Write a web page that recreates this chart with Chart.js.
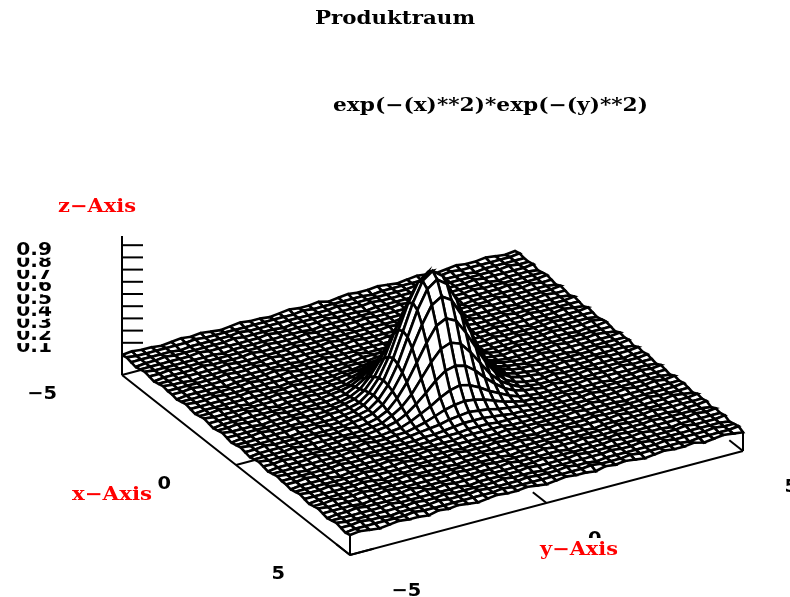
<!DOCTYPE html>
<html>
<head>
<meta charset="utf-8">
<title>Produktraum</title>
<script src="https://cdn.jsdelivr.net/npm/chart.js@4"></script>
<style>
body { margin: 0; background: #fff; }
canvas { display: block; }
</style>
</head>
<body>
<canvas id="chart" width="790" height="597"></canvas>
<script>
const TITLE = 'Produktraum';
const SUBTITLE = 'exp(−(x)**2)*exp(−(y)**2)';
const X_AXIS_LABEL = 'x−Axis';
const Y_AXIS_LABEL = 'y−Axis';
const Z_AXIS_LABEL = 'z−Axis';

const xTicks = [-5, 0, 5];
const yTicks = [-5, 0, 5];
const zTicks = [0.1, 0.2, 0.3, 0.4, 0.5, 0.6, 0.7, 0.8, 0.9];

const xValues = [-5,-4.8,-4.6,-4.4,-4.2,-4,-3.8,-3.6,-3.4,-3.2,-3,-2.8,-2.6,-2.4,-2.2,-2,-1.8,-1.6,-1.4,-1.2,-1,-0.8,-0.6,-0.4,-0.2,0,0.2,0.4,0.6,0.8,1,1.2,1.4,1.6,1.8,2,2.2,2.4,2.6,2.8,3,3.2,3.4,3.6,3.8,4,4.2,4.4,4.6,4.8,5];
const yValues = [-5,-4.75,-4.5,-4.25,-4,-3.75,-3.5,-3.25,-3,-2.75,-2.5,-2.25,-2,-1.75,-1.5,-1.25,-1,-0.75,-0.5,-0.25,0,0.25,0.5,0.75,1,1.25,1.5,1.75,2,2.25,2.5,2.75,3,3.25,3.5,3.75,4,4.25,4.5,4.75,5];

const zRows = [
[0,1,0,0,-1,0,1,0,1,0,-1, 0,1,0,0,-1,0,1,0,0,1,-1,0,1,0,0,1,0,-1,0, 1,0,-1,0,1,0,0,1,0,-1,0],
[1,0,0,0,0,0,0,1,0,0,0, 0,0,0,0,0,0,0,1,0,0,0,0,0,0,-1,0,0,0,0, 0,0,0,1,0,0,0,0,0,0,1],
[0,0,0,0,0,-1,0,0,0,0,0, 1,0,0,0,0,0,0,0,0,0,1,0,0,0,0,0,0,0,1, 0,0,0,0,0,-1,0,0,0,0,0],
[-1,0,0,1,0,0,0,0,0,0,1, 0,0,0,0,-1,0,0,0,0,0,0,0,0,1,0,0,0,0,0, 0,1,0,0,0,0,0,0,1,0,0],
[0,0,0,0,0,0,1,0,0,0,0, 0,0,1,0,0,0,0,0,1,0,0,0,-1,0,0,0,0,0,0, 0,0,0,0,1,0,0,0,0,0,1],
[1,0,0,0,0,0,0,0,-1,0,0, 0,0,0,0,0,0,-1,0,0,0,0,0,0,0,0,1,0,0,0, 1,0,0,0,0,0,-1,0,0,0,-1],
[0,0,1,0,0,0,0,0,0,0,0, 0,1,0,0,0,1,0,0,0,0,0,1,0,0,0,0,0,0,0, 0,0,0,1,0,0,0,0,0,0,0],
[-1,0,0,0,0,1,0,0,0,0,1, 0,0,0,0,0,0,0,0,0,-1,0,0,0,0,0,0,1,0,0, 0,0,0,0,0,0,1,0,0,0,1],
[0,0,0,0,0,0,0,1,0,0,0, 0,0,0,1,0,0,0,0,0,0,0,0,0,0,1,0,0,0,0, 0,-1,0,0,0,0,0,0,1,0,0],
[1,0,0,-1,0,0,0,0,0,0,0, 1,0,0,0,0,0,1,0,0,0,0,0,1,0,0,0,0,0,1, 0,0,0,0,1,0,0,0,0,0,-1],
[0,0,0,0,0,0,1,0,0,1,0, 0,0,0,0,0,0,0,0,1,0,0,0,0,0,0,0,-1,0,0, 0,0,1,0,0,0,0,0,0,0,1],
[0,0,1,0,0,0,0,0,0,0,0, 0,0,-1,0,0,0,0,0,0,0,0,1,0,0,0,0,0,0,0, 0,0,0,0,0,-1,0,0,1,0,0],
[-1,0,0,0,0,-1,0,0,0,0,1, 0,0,0,0,1,0,0,0,0,0,0,0,0,0,0,1,0,0,0, 1,0,0,0,0,0,0,0,0,0,-1],
[0,0,0,0,0,0,0,1,0,0,0, 1,0,0,0,0,0,0,1,0,0,0,-1,0,0,0,0,0,0,1, 0,0,0,1,0,0,0,0,0,0,1],
[1,0,0,1,0,0,0,0,0,0,0, 0,0,0,0,0,0,0,1,1,1,1,1,0,0,0,0,0,0,0, 0,0,0,0,0,1,0,0,0,0,0],
[0,0,0,0,0,0,1,0,0,-1,0, 0,0,0,0,0,1,1,1,2,2,2,1,1,1,0,0,0,0,0, 0,1,0,0,0,0,0,0,1,0,-1],
[-1,0,0,0,0,0,0,0,0,0,1, 0,0,0,0,1,1,2,3,4,4,4,3,2,1,1,0,0,0,0, 0,0,0,0,-1,0,0,0,0,0,1],
[0,0,1,0,0,-1,0,0,1,0,0, 0,0,0,1,2,3,4,6,7,8,7,6,4,3,2,1,0,0,0, 1,0,0,0,0,0,1,0,0,0,0],
[1,0,0,0,0,0,0,0,0,0,0, 0,0,1,1,3,5,8,11,13,14,13,11,8,5,3,1,1,0,0, 0,0,1,0,0,0,0,0,0,0,-1],
[0,0,0,0,1,0,0,-1,0,0,1, 0,0,1,2,5,9,13,18,22,24,22,18,13,9,5,2,1,0,0, 0,0,0,0,0,1,0,0,0,1,0],
[-1,0,0,0,0,0,0,0,0,0,0, 0,1,2,4,8,14,21,29,35,37,35,29,21,14,8,4,2,1,0, 0,1,0,0,0,0,0,-1,0,0,1],
[0,0,1,0,0,0,1,0,0,0,0, 0,1,2,6,11,19,30,41,50,53,50,41,30,19,11,6,2,1,0, 1,0,0,0,0,0,0,0,0,0,0],
[1,0,0,0,-1,0,0,0,0,1,0, 0,1,3,7,15,26,40,54,66,70,66,54,40,26,15,7,3,1,0, 0,0,0,0,1,0,0,0,1,0,-1],
[0,0,0,0,0,0,0,1,0,0,0, 1,2,4,9,18,31,49,66,80,85,80,66,49,31,18,9,4,2,1, 0,0,1,0,0,0,0,0,0,0,1],
[-1,0,0,1,0,0,0,0,0,0,1, 1,2,4,10,20,35,55,75,90,96,90,75,55,35,20,10,4,2,1, 0,0,0,0,0,-1,0,0,0,0,0],
[0,0,0,0,0,0,1,0,0,0,0, 1,2,5,11,21,37,57,78,94,100,94,78,57,37,21,11,5,2,1, 1,0,0,0,0,0,0,1,0,0,1],
[1,0,0,0,0,-1,0,0,1,0,0, 1,2,4,10,20,35,55,75,90,96,90,75,55,35,20,10,4,2,1, 0,0,0,1,0,0,0,0,0,0,-1],
[0,0,1,0,0,0,0,0,0,0,0, 1,2,4,9,18,31,49,66,80,85,80,66,49,31,18,9,4,2,1, 0,0,0,0,0,0,1,0,0,0,1],
[-1,0,0,0,0,0,0,1,0,0,1, 0,1,3,7,15,26,40,54,66,70,66,54,40,26,15,7,3,1,0, 0,1,0,0,0,0,0,0,-1,0,0],
[0,0,0,0,1,0,0,0,0,0,0, 0,1,2,6,11,19,30,41,50,53,50,41,30,19,11,6,2,1,0, 0,0,0,0,1,0,0,0,0,0,1],
[1,0,0,0,0,0,-1,0,0,1,0, 0,1,2,4,8,14,21,29,35,37,35,29,21,14,8,4,2,1,0, 1,0,0,0,0,0,0,1,0,0,0],
[0,0,1,0,0,0,0,0,0,0,0, 0,0,1,2,5,9,13,18,22,24,22,18,13,9,5,2,1,0,0, 0,0,0,1,0,0,0,0,0,0,-1],
[-1,0,0,0,0,1,0,0,0,0,1, 0,0,1,1,3,5,8,11,13,14,13,11,8,5,3,1,1,0,0, 0,0,0,0,0,-1,0,0,1,0,1],
[0,0,0,0,0,0,0,0,1,0,0, 0,0,0,1,2,3,4,6,7,8,7,6,4,3,2,1,0,0,0, 1,0,0,0,0,0,0,0,0,0,0],
[1,0,0,-1,0,0,0,0,0,0,0, 0,0,0,0,1,1,2,3,4,4,4,3,2,1,1,0,0,0,0, 0,0,1,0,0,0,0,0,0,0,-1],
[0,0,0,0,0,0,1,0,0,1,0, 0,0,0,0,0,1,1,1,2,2,2,1,1,1,0,0,0,0,0, 0,0,0,0,0,1,0,0,1,0,1],
[0,0,1,0,0,0,0,0,0,0,0, 0,0,0,0,0,0,0,1,1,1,1,1,0,0,0,0,0,0,0, 0,1,0,0,0,0,0,0,0,0,0],
[-1,0,0,0,0,-1,0,0,0,0,1, 0,0,0,1,0,0,0,0,0,0,0,1,0,0,0,0,0,0,1, 0,0,0,0,-1,0,0,0,0,0,1],
[0,0,0,0,0,0,0,1,0,0,0, 1,0,0,0,0,0,-1,0,0,0,0,0,0,0,1,0,0,0,0, 0,0,0,0,0,0,1,0,0,0,0],
[1,0,0,1,0,0,0,0,0,0,0, 0,0,0,0,0,1,0,0,0,1,0,0,0,-1,0,0,0,0,0, 1,0,0,0,0,0,0,0,1,0,-1],
[0,0,0,0,0,0,1,0,-1,0,0, 0,1,0,0,0,0,0,0,0,0,0,1,0,0,0,0,1,0,0, 0,0,1,0,0,0,0,0,0,0,1],
[-1,0,0,0,0,0,0,0,0,0,1, 0,0,0,0,-1,0,0,1,0,0,0,0,0,0,0,0,0,0,-1, 0,0,0,0,0,1,0,0,0,0,0],
[0,0,1,0,0,1,0,0,0,0,0, 1,0,0,0,0,0,0,0,0,-1,0,0,0,1,0,0,0,0,0, 0,1,0,0,0,0,0,-1,0,0,1],
[1,0,0,0,0,0,0,1,0,0,0, 0,0,0,1,0,0,1,0,0,0,0,0,1,0,0,0,1,0,0, 0,0,0,0,1,0,0,0,0,0,-1],
[0,0,0,0,-1,0,0,0,0,1,0, 0,0,0,0,0,0,0,0,1,0,0,0,0,0,-1,0,0,0,0, 1,0,0,0,0,0,0,0,1,0,1],
[-1,0,0,1,0,0,0,0,0,0,1, 0,1,0,0,0,1,0,0,0,0,0,1,0,0,0,0,0,0,1, 0,0,1,0,0,-1,0,0,0,0,0],
[0,0,0,0,0,0,1,0,0,0,0, 0,0,0,-1,0,0,0,0,0,1,0,0,0,0,1,0,0,0,0, 0,0,0,0,0,0,1,0,0,0,1],
[1,0,0,0,0,0,0,0,1,0,0, 1,0,0,0,0,0,1,0,0,0,-1,0,0,0,0,0,0,1,0, 0,1,0,0,0,0,0,0,0,0,-1],
[0,0,1,0,0,-1,0,0,0,0,1, 0,0,0,1,0,0,0,0,1,0,0,0,1,0,0,-1,0,0,0, 0,0,0,1,0,0,0,0,1,0,0],
[-1,0,0,0,0,0,0,1,0,0,0, 0,0,0,0,0,1,0,0,0,0,0,0,0,0,1,0,0,0,1, 0,0,0,0,0,-1,0,0,0,0,1],
[0,1,0,-1,0,1,0,0,-1,1,0, 1,0,-1,0,1,0,0,1,0,-1,0,1,0,0,-1,1,0,1,0, -1,0,1,0,0,1,-1,0,1,0,-1]
];

// oblique projection of the box, fitted to the reference
const X_STEP = { dx: 22.8, dy: 18 };
const Y_STEP = { dx: 39.3, dy: -10.4 };
const ORIGIN = { x: 122, y: 355 };
const Z_PX = 122;
const Z_BASE = -0.164;
const Z_TOP = 0.975;
const TICK_LEN = 0.6;
const MESH_WIDTH = 2.6;

function project(x, y, z) {
    return {
        x: ORIGIN.x + (x + 5) * X_STEP.dx + (y + 5) * Y_STEP.dx,
        y: ORIGIN.y + (x + 5) * X_STEP.dy + (y + 5) * Y_STEP.dy - z * Z_PX
    };
}

function lineSet(points, width) {
    return {
        data: points,
        showLine: true,
        borderColor: '#000',
        borderWidth: width || 2,
        pointRadius: 0,
        fill: false,
        clip: false
    };
}

function faceSet(points, lineWidth) {
    return {
        data: points,
        showLine: true,
        borderColor: '#000',
        backgroundColor: '#fff',
        borderWidth: lineWidth,
        pointRadius: 0,
        fill: 'shape',
        clip: false
    };
}

function buildDatasets() {
    const sets = [];

    // mesh, nearest face first because index 0 ends up on top
    for (let i = xValues.length - 2; i >= 0; i--) {
        for (let j = 0; j < yValues.length - 1; j++) {
            sets.push(faceSet([
                project(xValues[i], yValues[j], zRows[i][j] / 100),
                project(xValues[i + 1], yValues[j], zRows[i + 1][j] / 100),
                project(xValues[i + 1], yValues[j + 1], zRows[i + 1][j + 1] / 100),
                project(xValues[i], yValues[j + 1], zRows[i][j + 1] / 100),
                project(xValues[i], yValues[j], zRows[i][j] / 100)
            ], MESH_WIDTH));
        }
    }

    // box edges and ticks
    sets.push(lineSet([project(-5, -5, Z_BASE), project(5, -5, Z_BASE), project(5, 5, Z_BASE)]));
    sets.push(lineSet([project(-5, -5, Z_BASE), project(-5, -5, Z_TOP)]));
    sets.push(lineSet([project(5, -5, Z_BASE), project(5, -5, 0)]));
    sets.push(lineSet([project(5, 5, Z_BASE), project(5, 5, 0)]));
    xTicks.forEach(v => sets.push(lineSet([project(v, -5, Z_BASE), project(v, -5 + TICK_LEN, Z_BASE)])));
    yTicks.forEach(v => sets.push(lineSet([project(5, v, Z_BASE), project(5 - TICK_LEN, v, Z_BASE)])));
    zTicks.forEach(v => {
        const p = project(-5, -5, v);
        sets.push(lineSet([p, { x: p.x + 21, y: p.y }]));
    });

    // white skirt under the front edges
    sets.push(faceSet([project(-5, -5, 0), project(5, -5, 0), project(5, -5, Z_BASE), project(-5, -5, Z_BASE), project(-5, -5, 0)], 0));
    sets.push(faceSet([project(5, -5, 0), project(5, 5, 0), project(5, 5, Z_BASE), project(5, -5, Z_BASE), project(5, -5, 0)], 0));
    return sets;
}

function drawText(ctx, text, x, y, opts) {
    ctx.save();
    ctx.font = opts.font;
    ctx.textBaseline = 'alphabetic';
    ctx.textAlign = 'left';
    const measured = ctx.measureText(text).width;
    const sx = opts.width ? opts.width / measured : (opts.stretch || 1);
    const w = measured * sx;
    const left = opts.align === 'right' ? x - w : x;
    if (opts.box) {
        ctx.fillStyle = '#fff';
        ctx.fillRect(left - 1, y - opts.box[0], w + 2, opts.box[0] + opts.box[1]);
    }
    ctx.translate(left, y);
    ctx.scale(sx, 1);
    ctx.fillStyle = opts.color || '#000';
    ctx.fillText(text, 0, 0);
    ctx.restore();
}

const SERIF = 'bold 18px "DejaVu Serif"';
const TICK_FONT = 'bold 18px "DejaVu Sans"';

const labelPlugin = {
    id: 'labels3d',
    afterDatasetsDraw(chart) {
        const { ctx, scales } = chart;
        const at = (x, y, z) => {
            const p = project(x, y, z);
            return { x: scales.x.getPixelForValue(p.x), y: scales.y.getPixelForValue(p.y) };
        };
        const fmt = v => (v < 0 ? '−' : '') + Math.abs(v);

        drawText(ctx, TITLE, 315, 24, { font: SERIF, width: 160 });
        drawText(ctx, SUBTITLE, 333, 111, { font: SERIF, width: 315 });
        drawText(ctx, Z_AXIS_LABEL, 58, 212, { font: SERIF, width: 78, color: '#f00' });

        zTicks.forEach(v => {
            const p = at(-5, -5, v);
            drawText(ctx, v.toFixed(1), p.x - 70, p.y + 9.5, { font: TICK_FONT, stretch: 1.12, align: 'right', box: [13, 3] });
        });
        xTicks.forEach(v => {
            const p = at(v, -5, Z_BASE);
            drawText(ctx, fmt(v), p.x - 65, p.y + 24, { font: TICK_FONT, stretch: 1.08, align: 'right' });
        });
        yTicks.forEach(v => {
            const p = at(5, v, Z_BASE);
            drawText(ctx, fmt(v), p.x + 41.5, p.y + 41, { font: TICK_FONT, stretch: 1.08 });
        });

        drawText(ctx, X_AXIS_LABEL, 72, 500, { font: SERIF, width: 80, color: '#f00', box: [15, 4] });
        drawText(ctx, Y_AXIS_LABEL, 540, 555, { font: SERIF, width: 78, color: '#f00', box: [17, 5] });
    }
};

new Chart(document.getElementById('chart').getContext('2d'), {
    type: 'scatter',
    data: { datasets: buildDatasets() },
    plugins: [labelPlugin],
    options: {
        responsive: false,
        animation: false,
        parsing: false,
        layout: { padding: 0 },
        events: [],
        plugins: {
            legend: { display: false },
            title: { display: false },
            tooltip: { enabled: false }
        },
        scales: {
            x: { type: 'linear', min: 0, max: 790, display: false },
            y: { type: 'linear', min: 0, max: 597, reverse: true, display: false }
        }
    }
});
</script>
</body>
</html>
